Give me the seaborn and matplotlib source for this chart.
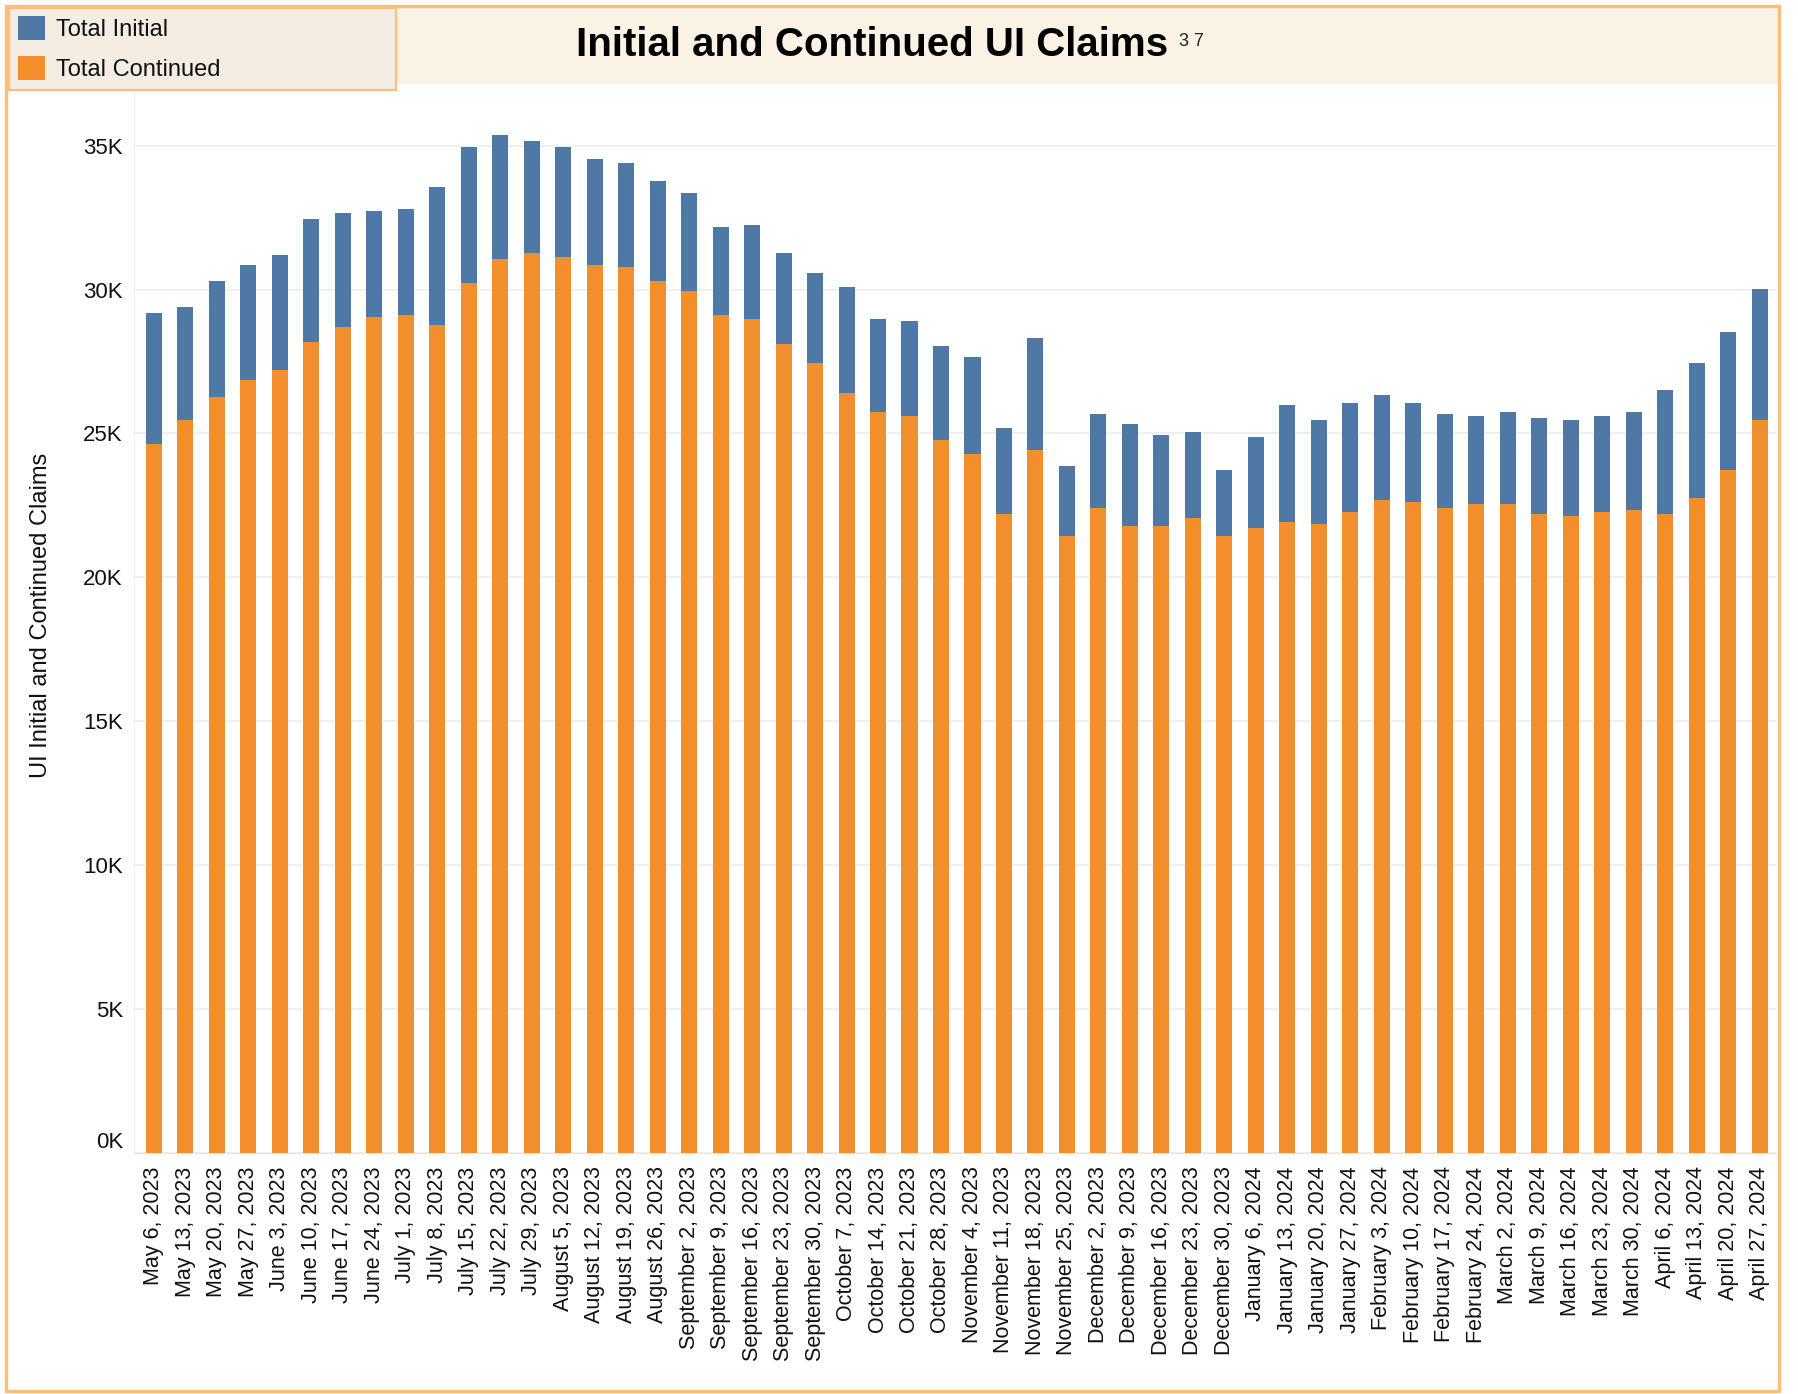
import numpy as np
import pandas as pd
import matplotlib.pyplot as plt
import matplotlib.transforms as mtransforms
import seaborn as sns
from matplotlib.patches import Rectangle, Patch
from matplotlib.ticker import FuncFormatter

# ---------------- data ----------------
weeks = ['May 6, 2023', 'May 13, 2023', 'May 20, 2023', 'May 27, 2023', 'June 3, 2023',
         'June 10, 2023', 'June 17, 2023', 'June 24, 2023', 'July 1, 2023', 'July 8, 2023',
         'July 15, 2023', 'July 22, 2023', 'July 29, 2023', 'August 5, 2023', 'August 12, 2023',
         'August 19, 2023', 'August 26, 2023', 'September 2, 2023', 'September 9, 2023',
         'September 16, 2023', 'September 23, 2023', 'September 30, 2023', 'October 7, 2023',
         'October 14, 2023', 'October 21, 2023', 'October 28, 2023', 'November 4, 2023',
         'November 11, 2023', 'November 18, 2023', 'November 25, 2023', 'December 2, 2023',
         'December 9, 2023', 'December 16, 2023', 'December 23, 2023', 'December 30, 2023',
         'January 6, 2024', 'January 13, 2024', 'January 20, 2024', 'January 27, 2024',
         'February 3, 2024', 'February 10, 2024', 'February 17, 2024', 'February 24, 2024',
         'March 2, 2024', 'March 9, 2024', 'March 16, 2024', 'March 23, 2024', 'March 30, 2024',
         'April 6, 2024', 'April 13, 2024', 'April 20, 2024', 'April 27, 2024']

total_continued = [24620, 25450, 26280, 26840, 27190, 28160, 28710, 29060, 29130, 28780,
                   30240, 31070, 31280, 31140, 30870, 30800, 30310, 29960, 29130, 28990,
                   28090, 27460, 26420, 25730, 25590, 24760, 24270, 22190, 24410, 21430,
                   22400, 21770, 21770, 22050, 21430, 21700, 21910, 21840, 22260, 22670,
                   22600, 22400, 22530, 22530, 22190, 22120, 22260, 22330, 22190, 22740,
                   23710, 25450]

total_initial = [4580, 3960, 4030, 4030, 4020, 4300, 3960, 3680, 3680, 4790,
                 4720, 4310, 3890, 3820, 3680, 3610, 3470, 3410, 3060, 3270,
                 3190, 3130, 3680, 3260, 3330, 3260, 3400, 2980, 3890, 2420,
                 3260, 3540, 3190, 2980, 2280, 3190, 4090, 3610, 3810, 3680,
                 3470, 3260, 3060, 3200, 3330, 3330, 3330, 3400, 4300, 4720,
                 4800, 4580]

df = pd.DataFrame({'week': weeks, 'continued': total_continued, 'initial': total_initial})
df['total'] = df['continued'] + df['initial']

blue = '#4e79a7'
orange = '#f28e2b'
border = '#fcbd80'

# ---------------- figure ----------------
sns.set_style('white')
plt.rcParams['font.family'] = ['Liberation Sans', 'DejaVu Sans']

W, H = 1799, 1394
fig = plt.figure(figsize=(W / 100, H / 100), dpi=100)

# axes placed so 0 sits at y=1152 px and the top meets the header band
ax_left, ax_right, ax_top, ax_bot = 134, 1776, 84, 1152.5
ax = fig.add_axes([ax_left / W, 1 - ax_bot / H, (ax_right - ax_left) / W, (ax_bot - ax_top) / H])

# stacked bars: total (blue) with continued (orange) drawn over it
sns.barplot(data=df, x='week', y='total', color=blue, saturation=1, width=0.51,
            errorbar=None, ax=ax, zorder=3, linewidth=0)
sns.barplot(data=df, x='week', y='continued', color=orange, saturation=1, width=0.51,
            errorbar=None, ax=ax, zorder=3, linewidth=0)

ax.set_xlim(-0.63, 51.52)
ax.set_ylim(0, 37145)
ax.set_yticks(np.arange(0, 35001, 5000))
ax.yaxis.set_major_formatter(FuncFormatter(lambda v, p: f'{int(v / 1000)}K'))
ax.grid(axis='y', color='#efefef', linewidth=1.3, zorder=0)
ax.set_axisbelow(True)

ax.set_xticks(range(len(weeks)))
ax.set_xticklabels(weeks, rotation=90, fontsize=15.5, color='#111111')
ax.set_xticks(np.arange(-0.5, len(weeks), 1), minor=True)
ax.tick_params(axis='x', which='major', length=0, pad=10)
ax.tick_params(axis='x', which='minor', length=8, width=1, color='#e6e6e6')
ax.tick_params(axis='y', length=0, pad=8, labelsize=16, labelcolor='#111111')
ax.set_xlabel('')
ax.set_ylabel('')

# the 0K label sits a little above the baseline in the original
zero_lab = ax.get_yticklabels()[0]
zero_lab.set_transform(zero_lab.get_transform() +
                       mtransforms.ScaledTranslation(0, 12 / 100, fig.dpi_scale_trans))

for s in ['top', 'right']:
    ax.spines[s].set_visible(False)
ax.spines['left'].set_color('#f0f0f0')
ax.spines['bottom'].set_color('#e6e6e6')
ax.spines['left'].set_linewidth(1)
ax.spines['bottom'].set_linewidth(1)

fig.text(41 / W, 1 - 615 / H, 'UI Initial and Continued Claims', rotation=90,
         ha='center', va='center', fontsize=17, color='#111111')

# ---------------- header band, title, legend ----------------
fig.patches.append(Rectangle((7 / W, 1 - 84 / H), (1779 - 7) / W, (84 - 7) / H,
                             transform=fig.transFigure, facecolor='#f9f2e5',
                             edgecolor='none', zorder=0))
fig.patches.append(Rectangle((9 / W, 1 - 90 / H), (396 - 9) / W, (90 - 8) / H,
                             transform=fig.transFigure, facecolor='#f5ede3',
                             edgecolor=border, linewidth=1.6, zorder=1))
fig.patches.append(Rectangle((6 / W, 1 - 1391 / H), (1779 - 6) / W, (1391 - 6) / H,
                             transform=fig.transFigure, facecolor='none',
                             edgecolor=border, linewidth=2.4, zorder=5))

fig.text(872 / W, 1 - 45 / H, 'Initial and Continued UI Claims', ha='center', va='center',
         fontsize=29, fontweight='bold', color='#000000')
fig.text(1179 / W, 1 - 41 / H, '3 7', ha='left', va='center', fontsize=13, color='#222222')

handles = [Patch(facecolor=blue, edgecolor='none'), Patch(facecolor=orange, edgecolor='none')]
leg = fig.legend(handles, ['Total Initial', 'Total Continued'], loc='upper left',
                 bbox_to_anchor=(18 / W, 1 - 16 / H), frameon=False, fontsize=17,
                 handlelength=1.15, handleheight=1.2, handletextpad=0.45,
                 labelspacing=0.62, borderpad=0, borderaxespad=0)
for t in leg.get_texts():
    t.set_color('#111111')

fig.savefig('out.png', dpi=100)
